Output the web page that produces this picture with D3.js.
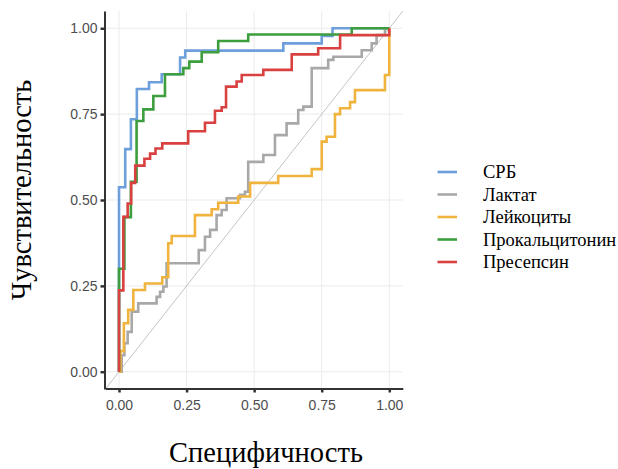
<!DOCTYPE html>
<html>
<head>
<meta charset="utf-8">
<script src="https://cdn.jsdelivr.net/npm/d3@7"></script>
<style>
  html, body { margin: 0; padding: 0; background: #ffffff; }
  svg { display: block; }
  .serif { font-family: "Liberation Serif", "Times New Roman", "DejaVu Serif", serif; }
</style>
</head>
<body>
<svg id="chart" width="618" height="469"></svg>
<script>
// ---- data ----
const seriesNames = ["СРБ", "Лактат", "Лейкоциты", "Прокальцитонин", "Пресепсин"];
const seriesColors = ["#6d9fdc", "#a8a8a8", "#f0b43e", "#3c9e3c", "#d94141"];
const axisTicks = [0, 0.25, 0.5, 0.75, 1];
const xTitle = "Специфичность";
const yTitle = "Чувствительность";

// step points: x where the curve rises, y reached after the rise
const crpX = [0, 0, 0.023, 0.044, 0.066, 0.111, 0.158, 0.226, 0.245, 0.608, 0.75, 0.79, 1];
const crpY = [0, 0.537, 0.648, 0.735, 0.823, 0.843, 0.866, 0.915, 0.935, 0.956, 0.978, 1, 1];

const lacX = [0, 0.01, 0.02, 0.032, 0.047, 0.071, 0.139, 0.152, 0.164, 0.176, 0.295, 0.318, 0.337, 0.361, 0.38, 0.398, 0.448, 0.466, 0.478, 0.534, 0.577, 0.62, 0.663, 0.682, 0.713, 0.774, 0.793, 0.898, 0.935, 0.953, 0.984, 1];
const lacY = [0, 0.048, 0.083, 0.116, 0.175, 0.199, 0.218, 0.233, 0.248, 0.316, 0.354, 0.393, 0.413, 0.456, 0.471, 0.505, 0.515, 0.524, 0.611, 0.631, 0.689, 0.723, 0.762, 0.772, 0.884, 0.908, 0.917, 0.936, 0.956, 0.98, 1, 1];

const leuX = [0, 0.005, 0.018, 0.034, 0.053, 0.096, 0.16, 0.182, 0.195, 0.281, 0.343, 0.367, 0.441, 0.485, 0.589, 0.713, 0.75, 0.768, 0.799, 0.818, 0.855, 0.873, 0.984, 1];
const leuY = [0, 0.06, 0.141, 0.18, 0.238, 0.257, 0.275, 0.374, 0.395, 0.456, 0.473, 0.492, 0.51, 0.55, 0.57, 0.59, 0.67, 0.684, 0.75, 0.767, 0.785, 0.82, 0.864, 1];

const pctX = [0, 0, 0.02, 0.044, 0.065, 0.09, 0.127, 0.17, 0.238, 0.26, 0.306, 0.367, 0.478, 0.861, 1];
const pctY = [0, 0.30, 0.45, 0.553, 0.73, 0.764, 0.803, 0.866, 0.884, 0.903, 0.93, 0.963, 0.982, 1, 1];

const psX = [0, 0, 0.016, 0.032, 0.045, 0.06, 0.094, 0.115, 0.135, 0.16, 0.256, 0.318, 0.355, 0.38, 0.396, 0.435, 0.454, 0.534, 0.639, 0.737, 0.818, 1];
const psY = [0, 0.237, 0.451, 0.49, 0.55, 0.60, 0.62, 0.635, 0.65, 0.665, 0.70, 0.725, 0.76, 0.77, 0.83, 0.845, 0.864, 0.879, 0.924, 0.942, 0.98, 1];

const seriesX = [crpX, lacX, leuX, pctX, psX];
const seriesY = [crpY, lacY, leuY, pctY, psY];

// ---- drawing ----
const svg = d3.select("#chart");
svg.append("rect").attr("width", 618).attr("height", 469).attr("fill", "#ffffff");

const x = d3.scaleLinear().domain([-0.05, 1.05]).range([105.5, 402.8]);
const y = d3.scaleLinear().domain([-0.05, 1.05]).range([388.9, 11.1]);

// grid
const grid = svg.append("g");
grid.selectAll("line.v").data(axisTicks).join("line")
  .attr("x1", d => x(d)).attr("x2", d => x(d))
  .attr("y1", y.range()[0]).attr("y2", y.range()[1])
  .attr("stroke", "#ebebeb").attr("stroke-width", 1);
grid.selectAll("line.h").data(axisTicks).join("line")
  .attr("y1", d => y(d)).attr("y2", d => y(d))
  .attr("x1", x.range()[0]).attr("x2", x.range()[1])
  .attr("stroke", "#ebebeb").attr("stroke-width", 1);

// diagonal reference line
svg.append("line")
  .attr("x1", x(-0.05)).attr("y1", y(-0.05))
  .attr("x2", x(1.05)).attr("y2", y(1.05))
  .attr("stroke", "#c4c4c4").attr("stroke-width", 1);

// ROC curves
const line = d3.line().x(d => x(d[0])).y(d => y(d[1])).curve(d3.curveStepAfter);
seriesNames.forEach((name, i) => {
  const pts = seriesX[i].map((v, j) => [v, seriesY[i][j]]);
  svg.append("path")
    .datum(pts)
    .attr("d", line)
    .attr("fill", "none")
    .attr("stroke", seriesColors[i])
    .attr("stroke-width", 2.6)
    .attr("stroke-linejoin", "miter");
});

// axes
const fmt = d3.format(".2f");
const xAxis = svg.append("g").attr("transform", "translate(0,388.5)")
  .call(d3.axisBottom(x).tickValues(axisTicks).tickFormat(fmt).tickSizeInner(4).tickSizeOuter(0).tickPadding(8));
const yAxis = svg.append("g").attr("transform", "translate(104.5,0)")
  .call(d3.axisLeft(y).tickValues(axisTicks).tickFormat(fmt).tickSizeInner(4).tickSizeOuter(0).tickPadding(3));
[xAxis, yAxis].forEach(a => {
  a.attr("font-family", null).attr("font-size", null);
  a.select(".domain").attr("stroke", "#333333").attr("stroke-width", 2);
  a.selectAll(".tick line").attr("stroke", "#333333").attr("stroke-width", 2.5);
  a.selectAll(".tick text").attr("fill", "#4d4d4d")
    .style("font-family", "'Liberation Sans', Arial, sans-serif").style("font-size", "14px");
});

// titles
svg.append("text").text(xTitle).attr("class", "serif")
  .attr("x", 266).attr("y", 462).attr("text-anchor", "middle")
  .attr("font-size", 28.5).attr("fill", "#000");
svg.append("text").text(yTitle).attr("class", "serif")
  .attr("transform", "translate(31,190) rotate(-90)").attr("text-anchor", "middle")
  .attr("font-size", 28.5).attr("fill", "#000");

// legend
const legendY = [172, 194.5, 217, 239.5, 262];
const lg = svg.append("g");
seriesNames.forEach((name, i) => {
  lg.append("line")
    .attr("x1", 437.5).attr("x2", 457).attr("y1", legendY[i]).attr("y2", legendY[i])
    .attr("stroke", seriesColors[i]).attr("stroke-width", 2.6);
  lg.append("text").text(name).attr("class", "serif")
    .attr("x", 483).attr("y", legendY[i]).attr("dy", "0.35em")
    .attr("font-size", 18.5).attr("fill", "#000");
});
</script>
</body>
</html>
